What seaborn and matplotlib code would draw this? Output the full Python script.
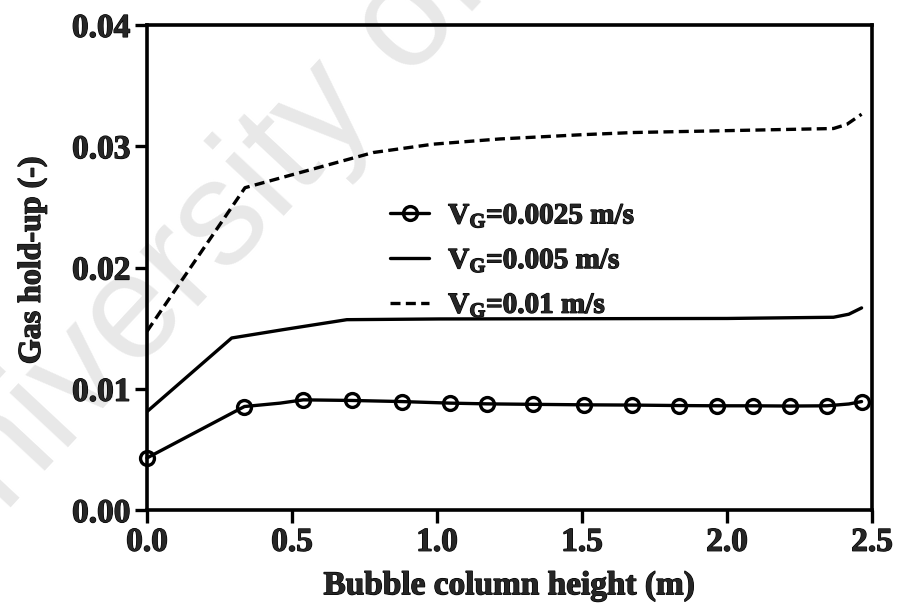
import matplotlib
matplotlib.use("Agg")
import matplotlib.pyplot as plt
import matplotlib.patheffects as pe
import seaborn as sns
import pandas as pd

# Gas hold-up profiles along the column for three superficial gas velocities
height_low = [0.00, 0.336, 0.459, 0.539, 0.706, 0.878, 1.045, 1.171, 1.332, 1.507,
              1.671, 1.836, 1.965, 2.090, 2.217, 2.344, 2.420, 2.464]
holdup_low = [0.00430, 0.00854, 0.00882, 0.00909, 0.00904, 0.00895, 0.00882, 0.00876,
              0.00872, 0.00868, 0.00866, 0.00862, 0.00860, 0.00860, 0.00858, 0.00860,
              0.00875, 0.00895]
marker_idx = [0, 1, 3, 4, 5, 6, 7, 8, 9, 10, 11, 12, 13, 14, 15, 17]

height_mid = [0.00, 0.292, 0.470, 0.689, 1.010, 1.500, 2.000, 2.367, 2.420, 2.464]
holdup_mid = [0.00812, 0.01419, 0.01488, 0.01570, 0.01576, 0.01578, 0.01580, 0.01590,
              0.01615, 0.01667]

height_high = [0.00, 0.338, 0.528, 0.780, 0.987, 1.217, 1.500, 1.677, 2.137, 2.367,
               2.413, 2.464]
holdup_high = [0.01474, 0.02658, 0.02783, 0.02948, 0.03017, 0.03060, 0.03095, 0.03113,
               0.03135, 0.03146, 0.03180, 0.03264]

series_labels = ["V$_\\mathregular{G}$=0.0025 m/s",
                 "V$_\\mathregular{G}$=0.005 m/s",
                 "V$_\\mathregular{G}$=0.01 m/s"]

x_ticks = [0.0, 0.5, 1.0, 1.5, 2.0, 2.5]
y_ticks = [0.00, 0.01, 0.02, 0.03, 0.04]

sns.set_theme(style="white")
plt.rcParams["font.family"] = ["Liberation Serif", "DejaVu Serif"]
plt.rcParams["font.weight"] = "bold"
plt.rcParams["mathtext.fontset"] = "custom"
plt.rcParams["mathtext.rm"] = "Liberation Serif:bold"
plt.rcParams["mathtext.bf"] = "Liberation Serif:bold"
plt.rcParams["mathtext.it"] = "Liberation Serif:bold"

heavy = [pe.withStroke(linewidth=0.9, foreground="black")]

fig = plt.figure(figsize=(8.99, 6.08), dpi=100)
ax = fig.add_axes([0.1635, 0.161, 0.8065, 0.798])
ax.set_facecolor("none")

# faint diagonal watermark behind the plot
fig.text(-0.077, 0.023, "University of Malaya", rotation=47, rotation_mode="anchor",
         ha="left", va="baseline", fontsize=108, color="#e8e8e8",
         family="Liberation Sans", fontweight="normal", zorder=-5)

df_low = pd.DataFrame({"h": height_low, "eps": holdup_low})
df_mid = pd.DataFrame({"h": height_mid, "eps": holdup_mid})
df_high = pd.DataFrame({"h": height_high, "eps": holdup_high})

sns.lineplot(data=df_low, x="h", y="eps", ax=ax, color="black", lw=2.4,
             marker="o", markevery=marker_idx, markersize=10, markeredgewidth=2.4,
             markerfacecolor="none", markeredgecolor="black",
             label=series_labels[0], estimator=None, sort=False, clip_on=False)
sns.lineplot(data=df_mid, x="h", y="eps", ax=ax, color="black", lw=2.4,
             label=series_labels[1], estimator=None, sort=False)
sns.lineplot(data=df_high, x="h", y="eps", ax=ax, color="black", lw=2.4,
             dashes=False, label=series_labels[2], estimator=None, sort=False)
ax.lines[-1].set_dashes([3.0, 1.6])

ax.set_xlim(0, 2.5)
ax.set_ylim(0, 0.04)
ax.set_xticks(x_ticks)
ax.set_yticks(y_ticks)
ax.set_xticklabels([f"{v:.1f}" for v in x_ticks])
ax.set_yticklabels([f"{v:.2f}" for v in y_ticks])

for side in ["left", "bottom", "top", "right"]:
    ax.spines[side].set_visible(True)
    ax.spines[side].set_color("black")
    ax.spines[side].set_linewidth(2.6)

ax.tick_params(axis="both", which="major", direction="out", length=9, width=2.4,
               color="black", labelsize=24, pad=3, bottom=True, left=True,
               top=False, right=False)
for lbl in ax.get_xticklabels() + ax.get_yticklabels():
    lbl.set_fontweight("bold")
    lbl.set_path_effects(heavy)

ax.set_xlabel("Bubble column height (m)", fontsize=24, fontweight="bold", labelpad=9,
              path_effects=heavy)
ax.set_ylabel("Gas hold-up (-)", fontsize=23, fontweight="bold",
              path_effects=heavy)
ax.yaxis.set_label_coords(-0.138, 0.515)

leg = ax.legend(loc="upper left", bbox_to_anchor=(0.335, 0.634), frameon=False,
                prop={"family": "Liberation Serif", "weight": "bold", "size": 21},
                handlelength=1.35, handletextpad=0.65, labelspacing=0.6,
                borderaxespad=0, borderpad=0)
for txt in leg.get_texts():
    txt.set_path_effects(heavy)

fig.savefig("out.png", dpi=100)
